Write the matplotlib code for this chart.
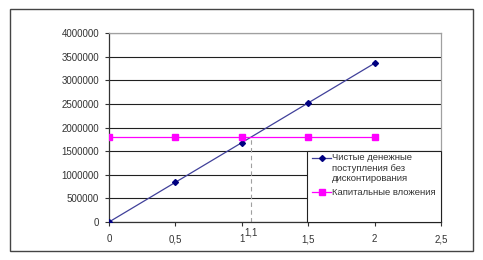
import matplotlib
matplotlib.use("Agg")
import matplotlib.pyplot as plt
import numpy as np
from matplotlib.patches import Rectangle
from matplotlib.ticker import FuncFormatter
from matplotlib.legend_handler import HandlerLine2D

plt.rcParams['font.family'] = ['Liberation Sans', 'DejaVu Sans']

# data
years = [0, 0.5, 1, 1.5, 2]
net_inflows = [0, 840000, 1680000, 2520000, 3360000]
investment = [1800000, 1800000, 1800000, 1800000, 1800000]
payback = 1.0714
payback_label = "1,1"
label_inflows = "Чистые денежные\nпоступления без\nдисконтирования"
label_invest = "Капитальные вложения"


class FirstLineHandler(HandlerLine2D):
    """Ставит маркер легенды напротив первой строки подписи, как в Excel"""
    def create_artists(self, legend, orig_handle, xdescent, ydescent,
                       width, height, fontsize, trans):
        artists = super().create_artists(legend, orig_handle, xdescent, ydescent,
                                         width, height, fontsize, trans)
        for a in artists:
            a.set_ydata(np.asarray(a.get_ydata()) + 1.15 * fontsize)
        return artists


W, H = 483, 260
fig = plt.figure(figsize=(W / 100, H / 100), dpi=100)

# outer frame of the chart
fig.patches.append(Rectangle((10 / W, 1 - 251 / H), 463 / W, 242 / H,
                             transform=fig.transFigure, fill=False,
                             edgecolor='#444444', linewidth=1.0))

ax = fig.add_axes([109 / W, 1 - 222 / H, 332 / W, 189 / H])

l1, = ax.plot(years, net_inflows, color='#40409a', linewidth=0.9, marker='D',
              markersize=3, markerfacecolor='#000080', markeredgecolor='#000080',
              label=label_inflows, zorder=3)
l2, = ax.plot(years, investment, color='#ff00ff', linewidth=0.9, marker='s',
              markersize=4, markerfacecolor='#ff00ff', markeredgecolor='#ff00ff',
              label=label_invest, zorder=3)

ax.plot([payback, payback], [0, investment[0]], color='#a0a0a0',
        linewidth=0.8, linestyle=(0, (4, 3)), zorder=2)
ax.text(payback, -0.03, payback_label, transform=ax.get_xaxis_transform(),
        ha='center', va='top', fontsize=7, color='#333333')

ax.set_xlim(0, 2.5)
ax.set_ylim(0, 4000000)
ax.set_xticks([0, 0.5, 1, 1.5, 2, 2.5])
ax.set_yticks(range(0, 4000001, 500000))
ax.xaxis.set_major_formatter(FuncFormatter(lambda v, p: f"{v:g}".replace('.', ',')))
ax.yaxis.set_major_formatter(FuncFormatter(lambda v, p: f"{int(v)}"))

ax.yaxis.grid(True, color='#202020', linewidth=0.8)
ax.set_axisbelow(True)
ax.tick_params(axis='both', labelsize=7, colors='#333333', length=3, width=0.8)
ax.tick_params(axis='x', pad=6)
ax.tick_params(axis='y', pad=4)

for side in ['left', 'bottom']:
    ax.spines[side].set_color('#333333')
    ax.spines[side].set_linewidth(0.9)
for side in ['top', 'right']:
    ax.spines[side].set_color('#a0a0a0')
    ax.spines[side].set_linewidth(0.9)

# legend box, drawn separately so its size matches the original
lx0 = (307 - 109) / 332
ltop = (222 - 151) / 189
ax.add_patch(Rectangle((lx0, 0), 1 - lx0, ltop, transform=ax.transAxes,
                       facecolor='white', edgecolor='#222222', linewidth=0.8,
                       zorder=4, clip_on=False))
leg = ax.legend(handles=[l1, l2], loc='upper left',
                bbox_to_anchor=(lx0 + 3 / 332, ltop),
                borderaxespad=0, fontsize=6.8, frameon=False, handlelength=2.0,
                handletextpad=0.1, labelspacing=0.5, borderpad=0.25,
                labelcolor='#333333', handler_map={l1: FirstLineHandler()})
leg.set_zorder(5)

fig.savefig("out.png", dpi=100)
